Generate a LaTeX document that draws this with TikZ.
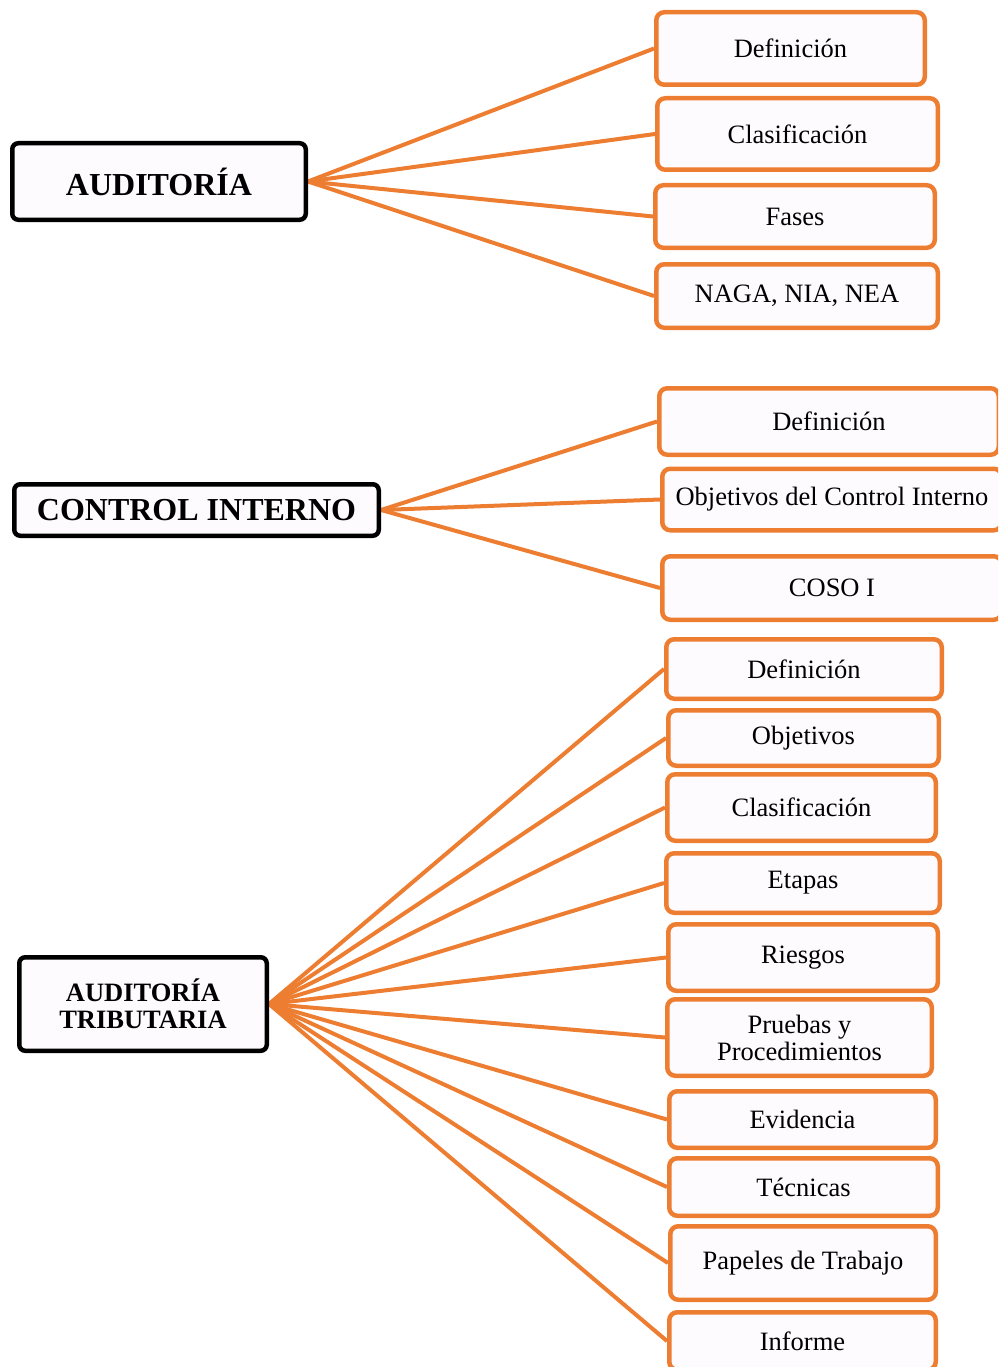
\documentclass[tikz,border=0pt]{standalone}
\usepackage{fontspec}
\setmainfont{Liberation Serif}
\usetikzlibrary{backgrounds}
\definecolor{orng}{HTML}{ED7D31}
\definecolor{boxfill}{HTML}{FDFBFD}
\begin{document}
\begin{tikzpicture}[x=1pt,y=-1pt,
  mainbox/.style={draw=black, line width=4.5pt, rounded corners=6pt, fill=boxfill,
    font=\fontsize{32}{34}\selectfont\bfseries, align=center, inner sep=0pt},
  subbox/.style={draw=orng, line width=4.5pt, rounded corners=8pt, fill=boxfill,
    font=\fontsize{26.5}{27}\selectfont, align=center, inner sep=0pt},
  link/.style={draw=orng, line width=4pt}]
\useasboundingbox (0,0) rectangle (998,1367);
\clip (0,0) rectangle (998,1367);

% main boxes
\node[mainbox, minimum width=293.5pt, minimum height=76.5pt] (m1) at (159,181.5) {AUDITORÍA};
\node[mainbox, minimum width=364.5pt, minimum height=51.5pt] (m2) at (196.5,510) {CONTROL INTERNO};
\node[mainbox, minimum width=247.5pt, minimum height=93.5pt, font=\fontsize{26.5}{27}\selectfont\bfseries] (m3) at (143,1004) {AUDITORÍA\\TRIBUTARIA};

% group 1
\node[subbox, minimum width=268.5pt, minimum height=72.5pt] (g1a) at (790.5,48.5) {Definición};
\node[subbox, minimum width=280.5pt, minimum height=71.5pt] (g1b) at (797.5,134) {Clasificación};
\node[subbox, minimum width=279.5pt, minimum height=62.5pt] (g1c) at (795,216.5) {Fases};
\node[subbox, minimum width=281.5pt, minimum height=63.5pt] (g1d) at (797,296) {NAGA, NIA, NEA};

% group 2
\node[subbox, minimum width=339.5pt, minimum height=66.5pt] (g2a) at (829,421.5) {Definición};
\node[subbox, minimum width=339.5pt, minimum height=61.5pt] (g2b) at (832,499.5) {Objetivos del Control Interno};
\node[subbox, minimum width=339.5pt, minimum height=63.5pt] (g2c) at (832,588) {COSO I};

% group 3
\node[subbox, minimum width=275.5pt, minimum height=59.5pt] (g3a) at (804,669) {Definición};
\node[subbox, minimum width=270.5pt, minimum height=55.5pt] (g3b) at (803.5,738) {Objetivos};
\node[subbox, minimum width=268.5pt, minimum height=66.5pt] (g3c) at (801.5,807.5) {Clasificación};
\node[subbox, minimum width=273.5pt, minimum height=59.5pt] (g3d) at (803,883) {Etapas};
\node[subbox, minimum width=269.5pt, minimum height=66.5pt] (g3e) at (803,957.5) {Riesgos};
\node[subbox, minimum width=264.5pt, minimum height=76.5pt] (g3f) at (799.5,1037.5) {Pruebas y\\Procedimientos};
\node[subbox, minimum width=266.5pt, minimum height=56.5pt] (g3g) at (802.5,1119.5) {Evidencia};
\node[subbox, minimum width=268.5pt, minimum height=57.5pt] (g3h) at (803.5,1187) {Técnicas};
\node[subbox, minimum width=265.5pt, minimum height=73.5pt] (g3i) at (803,1263) {Papeles de Trabajo};
\node[subbox, minimum width=266.5pt, minimum height=57.5pt] (g3j) at (802.5,1341) {Informe};

\begin{scope}[on background layer]
  \foreach \c in {g1a,g1b,g1c,g1d} \draw[link] (m1.east) -- (\c.west);
  \foreach \c in {g2a,g2b,g2c} \draw[link] (m2.east) -- (\c.west);
  \foreach \c in {g3a,g3b,g3c,g3d,g3e,g3f,g3g,g3h,g3i,g3j} \draw[link] (m3.east) -- (\c.west);
\end{scope}
\end{tikzpicture}
\end{document}
